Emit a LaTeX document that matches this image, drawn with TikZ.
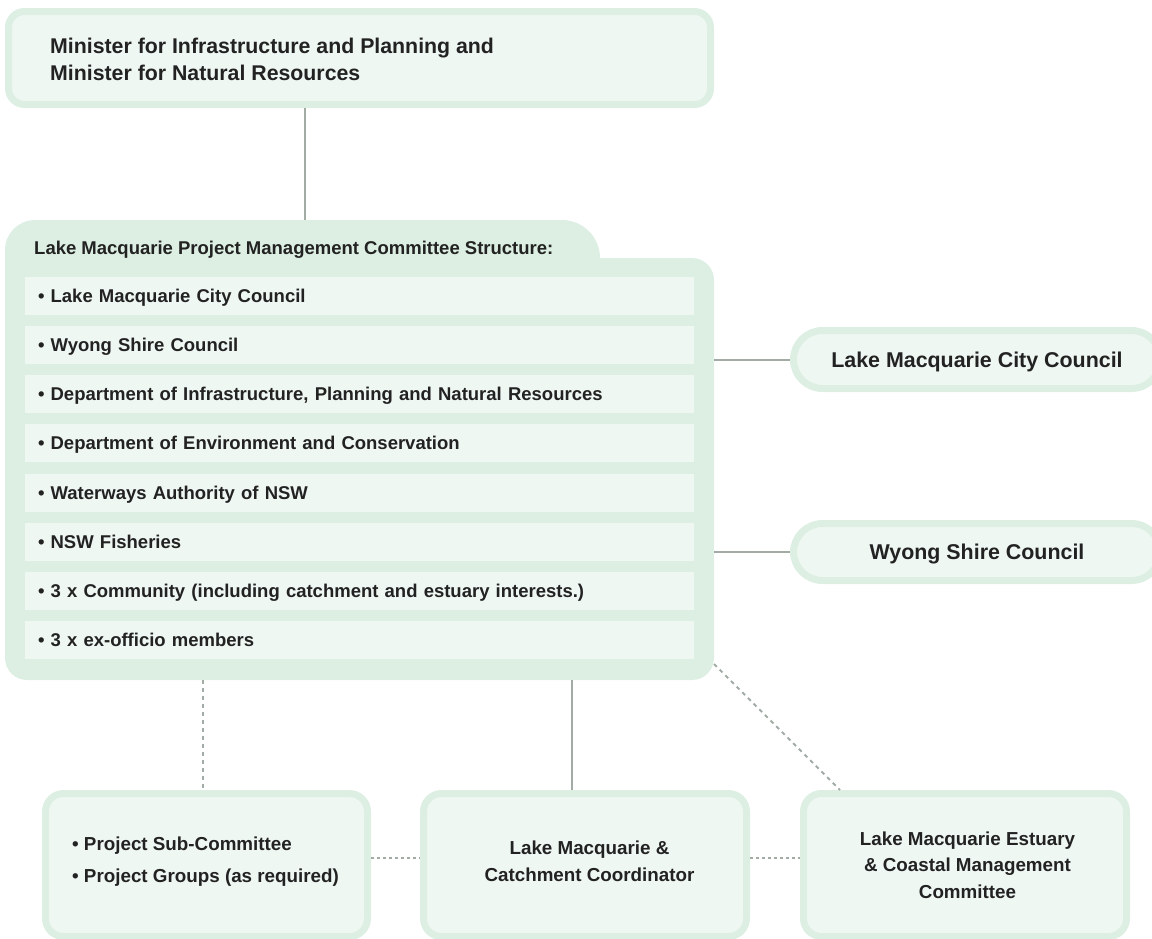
\documentclass[tikz,border=0pt]{standalone}
\usepackage{fontspec}
\setmainfont{Liberation Sans}
\definecolor{outerg}{HTML}{DDEFE3}
\definecolor{innerg}{HTML}{EFF7F2}
\definecolor{lineg}{HTML}{A2ACA5}
\definecolor{txt}{HTML}{222222}
\tikzset{
  box/.style={draw=outerg, line width=7pt, fill=innerg, rounded corners=16pt, inner sep=0pt},
  pill/.style={box, rounded corners=29pt, text=txt, text height=15.5pt, text depth=0.5pt, font=\bfseries\fontsize{21.4}{26}\selectfont},
  rowbox/.style={fill=innerg, minimum height=38pt, text width=643pt, inner xsep=13pt, inner ysep=0pt, text height=19.5pt, text depth=6.5pt, align=left, text=txt, font=\bfseries\fontsize{18.5}{22}\selectfont},
  btext/.style={text=txt, inner sep=0pt, anchor=base},
  conn/.style={draw=lineg, line width=2pt},
  dconn/.style={conn, dash pattern=on 4pt off 4pt},
  hdconn/.style={conn, dash pattern=on 3pt off 3pt}
}
\begin{document}
\begin{tikzpicture}[x=1pt,y=-1pt]
\useasboundingbox (0,0) rectangle (1152,938);
% top box
\node[box, minimum width=702pt, minimum height=93pt] (top) at (359.5,58) {};
\node[btext, anchor=base west, align=left, font=\bfseries\fontsize{21.3}{27}\selectfont] (toptext) at (50,80) {Minister for Infrastructure and Planning and\\Minister for Natural Resources};
% committee shape
\fill[outerg] (5,400) [rounded corners=30pt]-- (5,220) [rounded corners=38pt]-- (600,220) [sharp corners]-- (600,400) -- cycle;
\fill[outerg, rounded corners=22pt] (5,258) rectangle (714,680);
\node[minimum width=709pt, minimum height=422pt, inner sep=0pt, outer sep=0pt] (comm) at (359.5,469) {};
\coordinate (tabtop) at (305,220);
\node[btext, anchor=base west, font=\bfseries\fontsize{18.5}{22}\selectfont] (head) at (34,254) {Lake Macquarie Project Management Committee Structure:};
\node[rowbox] (r1) at (359.5,296) {• Lake Macquarie City Council};
\node[rowbox] (r2) at (359.5,345) {• Wyong Shire Council};
\node[rowbox] (r3) at (359.5,394) {• Department of Infrastructure, Planning and Natural Resources};
\node[rowbox] (r4) at (359.5,443) {• Department of Environment and Conservation};
\node[rowbox] (r5) at (359.5,493) {• Waterways Authority of NSW};
\node[rowbox] (r6) at (359.5,542) {• NSW Fisheries};
\node[rowbox] (r7) at (359.5,591) {• 3 x Community (including catchment and estuary interests.)};
\node[rowbox] (r8) at (359.5,640) {• 3 x ex-officio members};
% right pills
\node[pill, minimum width=367pt, minimum height=58pt] (lmcc) at (977,359.5) {Lake Macquarie City Council};
\node[pill, minimum width=367pt, minimum height=57pt] (wsc) at (977,552) {Wyong Shire Council};
% bottom boxes
\node[box, rounded corners=18pt, minimum width=322pt, minimum height=143pt] (sub) at (206.5,865) {};
\node[box, rounded corners=18pt, minimum width=323pt, minimum height=143pt] (coord) at (585,865) {};
\node[box, rounded corners=18pt, minimum width=323pt, minimum height=143pt] (est) at (965,865) {};
\node[btext, anchor=base west, align=left, font=\bfseries\fontsize{18.8}{32}\selectfont] (subt) at (72,882.5) {• Project Sub-Committee\\• Project Groups (as required)};
\node[btext, align=center, font=\bfseries\fontsize{18.8}{27}\selectfont] (coordt) at (589.5,881) {Lake Macquarie \&\\Catchment Coordinator};
\node[btext, align=center, font=\bfseries\fontsize{18.8}{26.5}\selectfont] (estt) at (967.5,898) {Lake Macquarie Estuary\\\& Coastal Management\\Committee};
% connectors
\draw[conn] (top.south -| tabtop) -- (tabtop);
\draw[conn] (lmcc.west -| comm.east) -- (lmcc.west);
\draw[conn] (wsc.west -| comm.east) -- (wsc.west);
\coordinate (c1) at (203,680);
\coordinate (c2) at (572,680);
\coordinate (c3) at (714,664);
\coordinate (c4) at (840,790);
\draw[dconn] (c1) -- (sub.north -| c1);
\draw[conn] (c2) -- (coord.north -| c2);
\draw[dconn] (c3) -- (c4);
\coordinate (h1) at (0,858);
\draw[hdconn] (sub.east |- h1) -- (coord.west |- h1);
\draw[hdconn] (coord.east |- h1) -- (est.west |- h1);
\end{tikzpicture}
\end{document}
